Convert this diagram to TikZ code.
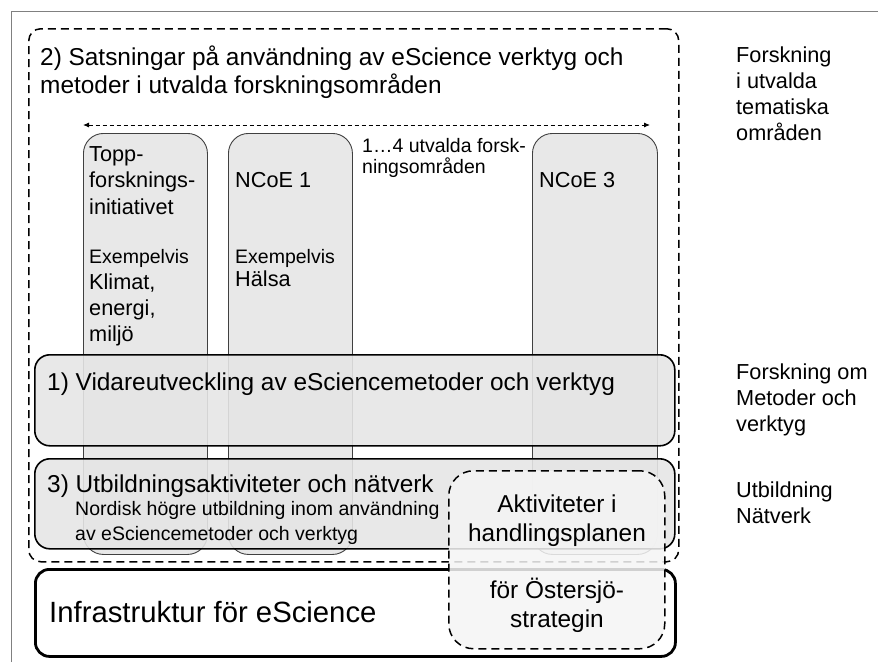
\documentclass[tikz,border=0pt]{standalone}
\usepackage{fontspec}
\setmainfont{Liberation Sans}
\usetikzlibrary{arrows.meta}
\newcommand{\fsz}[2]{\fontsize{#1}{#2}\selectfont}
\tikzset{
  colbox/.style={draw=black!75, line width=0.9pt, fill=black!9, rounded corners=20pt,
    anchor=north west, inner sep=0pt, minimum width=124pt, minimum height=421pt},
  bandbox/.style={draw=black, line width=1.6pt, fill=black!10, fill opacity=0.9, rounded corners=15pt,
    anchor=north west, inner sep=0pt, minimum width=640pt},
  infrabox/.style={draw=black, line width=2.8pt, fill=white, rounded corners=14pt,
    anchor=north west, inner sep=0pt, minimum width=640pt, minimum height=87pt},
  outerbox/.style={draw=black, line width=1.5pt, dash pattern=on 8pt off 5pt, rounded corners=12pt,
    anchor=north west, inner sep=0pt, minimum width=650pt, minimum height=533pt},
  aktbox/.style={draw=black, line width=1.5pt, dash pattern=on 8pt off 5pt, fill=black!4, fill opacity=0.85,
    rounded corners=25pt, anchor=north west, inner sep=0pt, minimum width=216pt, minimum height=178pt},
  txt/.style={anchor=north west, inner sep=0pt, align=left, text=black},
  big/.style={font=\fsz{24.4}{28}},
  mid/.style={font=\fsz{21.7}{26.7}},
  sml/.style={font=\fsz{19.5}{25}},
}
\begin{document}
\begin{tikzpicture}[x=1pt,y=-1pt]
\useasboundingbox (0,0) rectangle (878,662);
% page frame
\coordinate (frA) at (11,662);
\coordinate (frB) at (11,11);
\coordinate (frC) at (878,11);
\draw[black!50, line width=0.8pt] (frA) -- (frB) -- (frC);

% outer dashed region
\node[outerbox] (outer) at (28,28) {};
\node[txt, big] (title) at (40,46) {2) Satsningar på användning av eScience verktyg och\\metoder i utvalda forskningsområden};

% arrow
\coordinate (arrL) at (83,125);
\coordinate (arrR) at (650,125);
\draw[line width=0.9pt, dash pattern=on 4pt off 3pt, {Latex[length=6pt,width=5pt]}-{Latex[length=6pt,width=5pt]}] (arrL) -- (arrR);
\node[txt, font=\fsz{19.5}{21}] (range) at (362,138) {1…4 utvalda forsk-\\ningsområden};

% columns
\node[colbox] (col1) at (83,133) {};
\node[colbox] (col2) at (228,133) {};
\node[colbox, minimum width=125pt] (col3) at (532,133) {};

\node[txt, mid] (c1a) at (89,146) {Topp-\\forsknings-\\initiativet};
\node[txt, sml] (c1b) at (89,249) {Exempelvis};
\node[txt, font=\fsz{21.7}{26}] (c1c) at (89,274) {Klimat,\\energi,\\miljö};
\node[txt, mid] (c2a) at (235,172) {NCoE 1};
\node[txt, sml] (c2b) at (235,249) {Exempelvis};
\node[txt, mid] (c2c) at (235,271) {Hälsa};
\node[txt, mid] (c3a) at (539,172) {NCoE 3};

% bands
\node[bandbox, minimum height=91pt] (band1) at (34,354) {};
\node[txt, big] (band1t) at (47,373) {1) Vidareutveckling av eSciencemetoder och verktyg};
\node[bandbox, minimum height=90pt] (band3) at (34,458) {};
\node[txt, big] (band3t) at (47,475) {3) Utbildningsaktiviteter och nätverk};
\node[txt, sml] (band3s) at (75,501) {Nordisk högre utbildning inom användning\\av eSciencemetoder och verktyg};

% infrastructure
\node[infrabox] (infra) at (34,568) {};
\node[txt, font=\fsz{29.3}{34}] (infrat) at (49,601) {Infrastruktur för eScience};

% Baltic strategy box
\node[aktbox] (akt) at (448,470) {};
\node[anchor=north, inner sep=0pt, align=center, font=\fsz{24.4}{28.5}] (aktt) at (557,495)
  {Aktiviteter i\\handlingsplanen\\[29pt]för Östersjö-\\strategin};

% right-hand labels
\node[txt, font=\fsz{21.7}{25.7}] (r1) at (736,47) {Forskning\\i utvalda\\tematiska\\områden};
\node[txt, font=\fsz{21.7}{26}] (r2) at (736,364) {Forskning om\\Metoder och\\verktyg};
\node[txt, font=\fsz{21.7}{26}] (r3) at (736,482) {Utbildning\\Nätverk};
\end{tikzpicture}
\end{document}
